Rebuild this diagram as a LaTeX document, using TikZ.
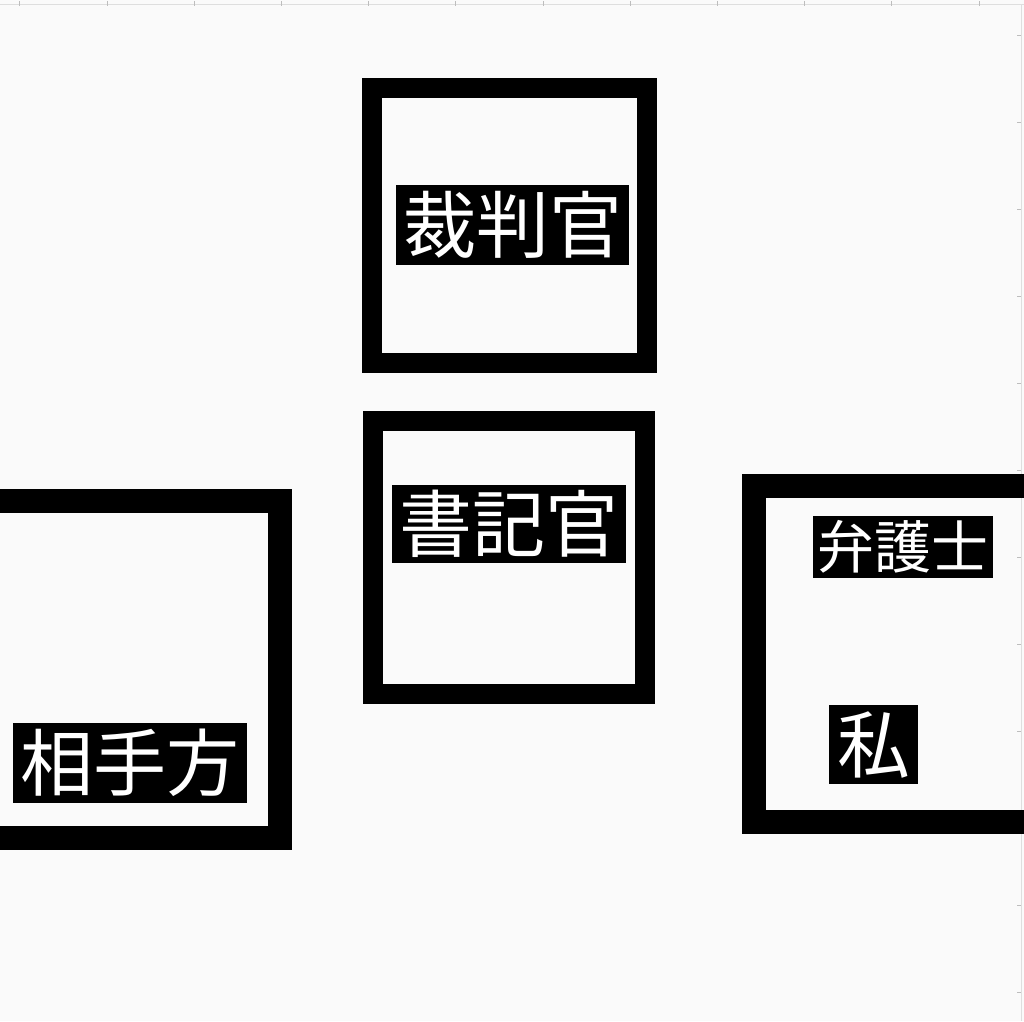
\documentclass[tikz,border=0pt]{standalone}
\usepackage{fontspec}
\newfontfamily\jp{Noto Sans CJK JP}
\definecolor{bg}{HTML}{FAFAFA}
\definecolor{rule}{HTML}{DEDEDE}
\tikzset{
  room/.style={draw=black, line width=20pt, inner sep=0pt, outer sep=0pt},
  bigroom/.style={room, line width=24pt},
  tag/.style={fill=black, text=white, inner sep=0pt, outer sep=0pt, font=\jp\fontsize{73}{73}\selectfont},
  smalltag/.style={tag, font=\jp\fontsize{57}{57}\selectfont},
}
\begin{document}
\begin{tikzpicture}[x=1pt,y=-1pt]
\useasboundingbox (0,0) rectangle (1024,1021);
\fill[bg] (0,0) rectangle (1024,1021);
\clip (0,0) rectangle (1024,1021);
% faint ruler lines
\draw[rule, line width=0.8pt] (0,4.5) -- (1024,4.5);
\draw[rule, line width=1.2pt] (1021.5,4.5) -- (1021.5,1021);
\foreach \t in {19.6,106.8,194,281.2,368.4,455.6,542.8,630,717.2,804.4,891.6,978.8} {
  \draw[rule!85!black, line width=0.4pt] (\t,1) -- (\t,6);
}
\foreach \t in {35,122,209,296,383,470,557,644,731,818,905,992} {
  \draw[rule!85!black, line width=0.4pt] (1017,\t) -- (1021,\t);
}
% rooms
\node[room, minimum width=275pt, minimum height=275pt] (judgebox) at (509.5,225.5) {};
\node[room, minimum width=272pt, minimum height=273pt] (clerkbox) at (509,557.5) {};
\node[bigroom, minimum width=300pt, minimum height=336pt] (mybox) at (904,654) {};
\node[bigroom, minimum width=320pt, minimum height=337pt] (otherbox) at (120,669.5) {};
% labels
\node[tag, minimum width=233pt, minimum height=80pt] (judge) at (512.5,225) {裁判官};
\node[tag, minimum width=234pt, minimum height=78pt] (clerk) at (509,524) {書記官};
\node[smalltag, minimum width=180pt, minimum height=62pt] (lawyer) at (903,547) {弁護士};
\node[tag, minimum width=89pt, minimum height=79pt] (me) at (873.5,744.5) {私};
\node[tag, minimum width=234pt, minimum height=80pt] (other) at (130,763) {相手方};
\end{tikzpicture}
\end{document}
